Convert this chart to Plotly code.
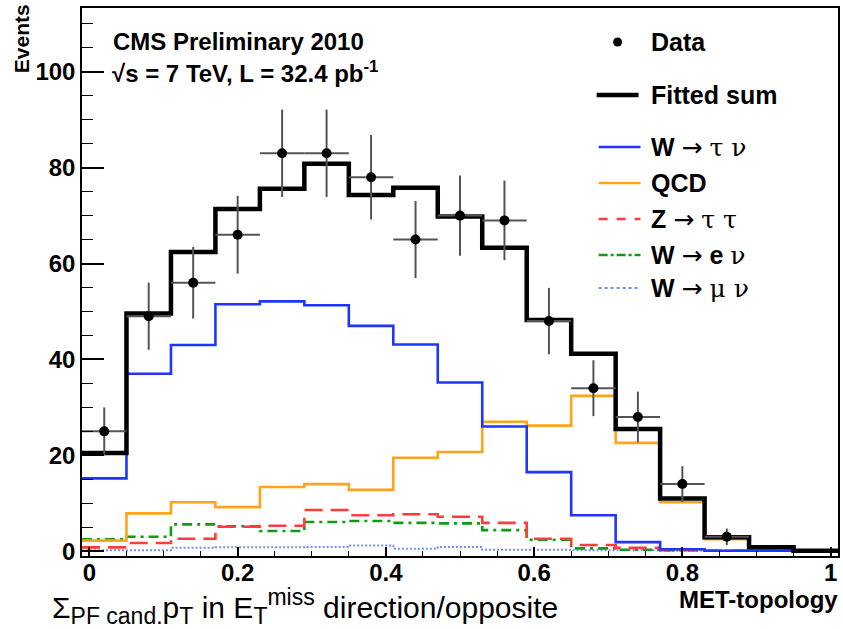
import numpy as np
import plotly.graph_objects as go

# Binning of the MET-topology variable: 17 bins between -0.01 and 1.01
bin_lo, bin_hi, n_bins = -0.01, 1.01, 17

# Observed event counts per bin
data_counts = [25, 49, 56, 66, 83, 83, 78, 65, 70, 69, 48, 34, 28, 14, 3, 0, 0]

# Fitted templates (events per bin)
fitted_sum = [20.5, 49.6, 62.4, 71.4, 75.6, 80.8, 74.3, 75.8, 69.8, 63.3,
              48.2, 41.2, 25.5, 11.0, 2.9, 0.8, 0.1]
w_taunu = [15.2, 37.0, 43.0, 51.5, 52.1, 51.3, 47.0, 43.1, 35.2, 26.0,
           16.5, 7.5, 1.9, 0.4, 0.1, 0.1, 0.0]
qcd = [2.2, 7.9, 10.2, 9.2, 13.4, 14.0, 12.8, 19.5, 20.7, 27.0,
       26.2, 32.4, 22.6, 10.2, 2.5, 0.6, 0.1]
z_tautau = [0.8, 1.7, 2.6, 5.1, 5.3, 8.6, 7.5, 7.7, 7.2, 5.9,
            2.6, 1.3, 0.7, 0.2, 0.1, 0.1, 0.0]
w_enu = [2.5, 3.0, 5.6, 5.2, 4.2, 6.1, 6.3, 5.9, 5.8, 4.4,
         2.4, 0.6, 0.3, 0.2, 0.1, 0.1, 0.0]
w_munu = [0.2, 0.2, 0.7, 0.8, 0.8, 0.9, 1.2, 0.5, 0.9, 0.3,
          0.3, 0.2, 0.2, 0.1, 0.1, 0.1, 0.0]

x_tick_vals = [0, 0.2, 0.4, 0.6, 0.8, 1]
x_tick_text = ["0", "0.2", "0.4", "0.6", "0.8", "1"]
y_tick_vals = [0, 20, 40, 60, 80, 100]
y_tick_text = ["0", "20", "40", "60", "80", "100"]

edges = np.linspace(bin_lo, bin_hi, n_bins + 1)
centers = 0.5 * (edges[:-1] + edges[1:])
half_width = 0.5 * (edges[1] - edges[0])

FONT = "Liberation Sans, Arial, Helvetica, sans-serif"
ARROW = '<span style="font-family:DejaVu Sans">\u2192</span>'
GREEK = 'style="font-family:DejaVu Serif"'


def greek(s):
    return f'<span {GREEK}>{s}</span>'


def small(s, size=23):
    return f'<span style="font-size:{size}px">{s}</span>'


# Template styles: (values, label, colour, dash, width)
templates = [
    (w_taunu, f"<b>W</b> {ARROW} {greek('τ ν')}", "#1f35ff", "solid", 2.6),
    (qcd, "<b>QCD</b>", "#ffa31a", "solid", 2.6),
    (z_tautau, f"<b>Z</b> {ARROW} {greek('τ τ')}", "#ff3b3b", "18px,8px", 2.6),
    (w_enu, f"<b>W</b> {ARROW} <b>e</b> {greek('ν')}", "#129a12",
     "10px,5px,3px,5px", 2.6),
    (w_munu, f"<b>W</b> {ARROW} {greek('μ ν')}", "#6f8dff", "2px,2px", 2.0),
]

fig = go.Figure()


def step_trace(values, color, dash, width):
    y = list(values) + [values[-1]]
    return go.Scatter(x=edges, y=y, mode="lines", line_shape="hv",
                      line=dict(color=color, dash=dash, width=width),
                      showlegend=False, hoverinfo="skip")


for vals, _, col, dash, w in templates[::-1]:
    fig.add_trace(step_trace(vals, col, dash, w))

fig.add_trace(step_trace(fitted_sum, "black", "solid", 4.5))

# Data points with Poisson errors, empty bins are not drawn
mask = np.array(data_counts) > 0
dc = np.array(data_counts, dtype=float)[mask]
fig.add_trace(go.Scatter(
    x=centers[mask], y=dc, mode="markers",
    marker=dict(color="black", size=10),
    error_y=dict(type="data", array=np.sqrt(dc), color="#555555",
                 thickness=2, width=0),
    error_x=dict(type="data", array=np.full(dc.size, half_width),
                 color="#555555", thickness=2, width=0),
    showlegend=False, hoverinfo="skip"))

# Pixel helpers for the annotation / legend layer (plot frame 82..840, 8..556)
L, R, T, B = 82, 840, 8, 556


def px(x):
    return (x - L) / (R - L)


def py(y):
    return (B - y) / (B - T)


annotations = []
shapes = []


def text(x, y, s, size=23, anchor="left", bold=True, angle=0):
    annotations.append(dict(
        x=px(x), y=py(y), xref="paper", yref="paper",
        text=f"<b>{s}</b>" if bold else s, showarrow=False,
        xanchor=anchor, yanchor="middle", textangle=angle,
        font=dict(family=FONT, size=size, color="black")))


text(111, 42, "CMS Preliminary 2010", size=24)
text(110, 72, "\u221as = 7 TeV, L = 32.4 pb<sup>-1</sup>", size=24)
text(22, 39, "Events", size=21, anchor="center", angle=-90)
text(842, 599, "MET-topology", size=24, anchor="right")
text(50, 606,
     "\u03a3<sub>" + small("PF cand.") + "</sub>p<sub>" + small("T") +
     "</sub> in E<sub>" + small("T") + "</sub><sup>" + small("miss") +
     "</sup> direction/opposite", size=30, bold=False)

# Legend block
leg_x0, leg_x1, leg_text = 600, 642, 650
# Data entry
shapes.append(dict(type="circle", xref="paper", yref="paper",
                   x0=px(614.5), x1=px(623.5), y0=py(46.5), y1=py(37.5),
                   fillcolor="black", line=dict(color="black", width=0)))
text(leg_text, 42, "Data", size=25)
# Fitted sum
shapes.append(dict(type="line", xref="paper", yref="paper",
                   x0=px(598), x1=px(640), y0=py(95), y1=py(95),
                   line=dict(color="black", width=4.5)))
text(leg_text, 95, "Fitted sum", size=25)
# Templates
leg_rows = [147, 183, 219, 255, 288]
dash_map = {"solid": "solid", "18px,8px": "dash",
            "10px,5px,3px,5px": "dashdot", "2px,2px": "dot"}
for (vals, label, col, dash, w), yy in zip(templates, leg_rows):
    shapes.append(dict(type="line", xref="paper", yref="paper",
                       x0=px(leg_x0), x1=px(leg_x1), y0=py(yy), y1=py(yy),
                       line=dict(color=col, width=w, dash=dash_map[dash])))
    annotations.append(dict(
        x=px(leg_text), y=py(yy), xref="paper", yref="paper",
        text=label, showarrow=False, xanchor="left", yanchor="middle",
        font=dict(family=FONT, size=25, color="black")))

axis_common = dict(showline=True, linecolor="black", linewidth=1.5,
                   mirror=True, ticks="inside", tickcolor="black",
                   showgrid=False, zeroline=False,
                   tickfont=dict(family=FONT, size=24, color="black"))

fig.update_layout(
    width=843, height=629,
    margin=dict(l=L, r=843 - R, t=T, b=629 - B),
    paper_bgcolor="white", plot_bgcolor="white",
    xaxis=dict(range=[bin_lo, bin_hi], tickvals=x_tick_vals,
               ticktext=[f"<b>{t}</b>" for t in x_tick_text],
               ticklen=9, tickwidth=1.5, ticklabelstandoff=-6,
               minor=dict(dtick=0.05, tick0=0, ticks="inside", ticklen=5,
                          tickcolor="black", tickwidth=1.2),
               **axis_common),
    yaxis=dict(range=[-1, 113.3], tickvals=y_tick_vals,
               ticktext=[f"<b>{t}</b>" for t in y_tick_text],
               ticklen=22, tickwidth=1.5,
               minor=dict(dtick=5, tick0=0, ticks="inside", ticklen=11,
                          tickcolor="black", tickwidth=1.2),
               **axis_common),
    annotations=annotations, shapes=shapes,
)

fig.write_html("out.html")
